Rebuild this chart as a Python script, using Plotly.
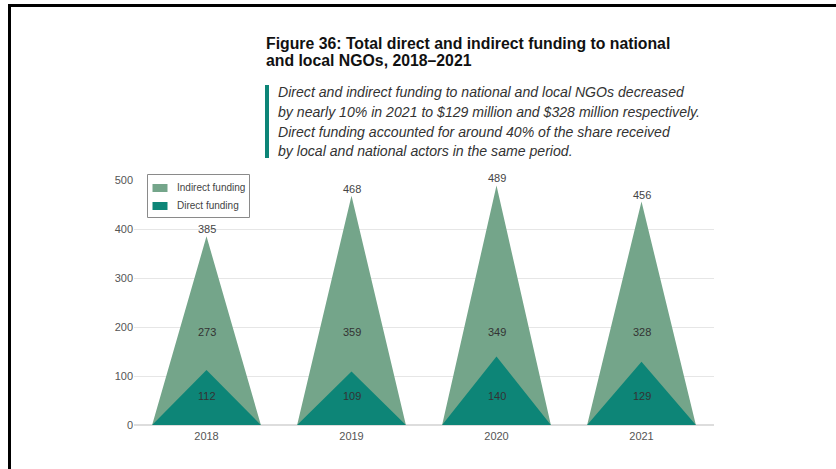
import plotly.graph_objects as go

years = ["2018", "2019", "2020", "2021"]
indirect = [273, 359, 349, 328]
direct = [112, 109, 140, 129]
totals = [385, 468, 489, 456]
y_ticks = [0, 100, 200, 300, 400, 500]
legend_names = ["Indirect funding", "Direct funding"]

INDIRECT_COL = "#74a58a"
DIRECT_COL = "#0d8577"
HALF = 0.375

# plot area pixel geometry
L, R, T, B = 134, 122, 180, 44
W, H = 836, 469
PW, PH = W - L - R, H - T - B


def px(xp):
    return (xp - L) / PW


def py(yp):
    return (H - B - yp) / PH


fig = go.Figure()

xs, ys = [], []
for i, t in enumerate(totals):
    xs += [i - HALF, i, i + HALF, i - HALF, None]
    ys += [0, t, 0, 0, None]
fig.add_trace(go.Scatter(x=xs, y=ys, fill="toself", fillcolor=INDIRECT_COL,
                         mode="none", name=legend_names[0], hoverinfo="skip",
                         showlegend=False))
xs, ys = [], []
for i, d in enumerate(direct):
    xs += [i - HALF, i, i + HALF, i - HALF, None]
    ys += [0, d, 0, 0, None]
fig.add_trace(go.Scatter(x=xs, y=ys, fill="toself", fillcolor=DIRECT_COL,
                         mode="none", name=legend_names[1], hoverinfo="skip",
                         showlegend=False))

annots = []
for i in range(len(years)):
    annots.append(dict(x=i, y=totals[i], text=str(totals[i]), showarrow=False,
                       yanchor="bottom", yshift=-1, font=dict(size=11, color="#444")))
    annots.append(dict(x=i, y=190, text=str(indirect[i]), showarrow=False,
                       font=dict(size=11, color="#333")))
    annots.append(dict(x=i, y=59, text=str(direct[i]), showarrow=False,
                       font=dict(size=11, color="#333")))

title_lines = ["Figure 36: Total direct and indirect funding to national",
               "and local NGOs, 2018\u20132021"]
for line, yc in zip(title_lines, [43, 61]):
    annots.append(dict(xref="paper", yref="paper", x=px(264), y=py(yc),
                       xanchor="left", yanchor="middle", showarrow=False,
                       text="<b>" + line + "</b>",
                       font=dict(family="Liberation Sans, Arial", size=15.8, color="#111")))

sub_lines = ["Direct and indirect funding to national and local NGOs decreased",
             "by nearly 10% in 2021 to $129 million and $328 million respectively.",
             "Direct funding accounted for around 40% of the share received",
             "by local and national actors in the same period."]
for line, yc in zip(sub_lines, [92, 112, 132, 151]):
    annots.append(dict(xref="paper", yref="paper", x=px(276), y=py(yc),
                       xanchor="left", yanchor="middle", showarrow=False,
                       text="<i>" + line + "</i>",
                       font=dict(family="Liberation Sans, Arial", size=14.1, color="#333")))

# manual legend
shapes = [
    dict(type="rect", xref="paper", yref="paper", x0=px(147.5), x1=px(249.5),
         y0=py(217.5), y1=py(174.5), fillcolor="white", line=dict(color="#8a8a8a", width=1)),
]
for name, col, yc in zip(legend_names, [INDIRECT_COL, DIRECT_COL], [188, 206]):
    shapes.append(dict(type="rect", xref="paper", yref="paper", x0=px(152.5), x1=px(167.5),
                       y0=py(yc + 4), y1=py(yc - 4), fillcolor=col, line=dict(width=0)))
    annots.append(dict(xref="paper", yref="paper", x=px(175), y=py(yc - 0.5),
                       xanchor="left", yanchor="middle", showarrow=False, text=name,
                       font=dict(size=10, color="#444")))

shapes += [
    dict(type="rect", xref="paper", yref="paper", x0=px(265), x1=px(269),
         y0=py(158), y1=py(85), fillcolor=DIRECT_COL, line=dict(width=0)),
    dict(type="line", xref="paper", yref="paper", x0=px(9.5), x1=px(9.5),
         y0=py(4), y1=py(470), line=dict(color="black", width=3)),
    dict(type="line", xref="paper", yref="paper", x0=px(8), x1=px(837),
         y0=py(5.5), y1=py(5.5), line=dict(color="black", width=3)),
]

fig.update_layout(
    width=W, height=H,
    margin=dict(l=L, r=R, t=T, b=B),
    paper_bgcolor="white", plot_bgcolor="white",
    font=dict(family="Liberation Sans, Arial", color="#555", size=11),
    showlegend=False,
    hovermode=False,
    xaxis=dict(range=[-0.5, 3.5], tickmode="array", tickvals=list(range(len(years))),
               ticktext=years, showgrid=False, zeroline=False, ticks="",
               ticklabelstandoff=3,
               tickfont=dict(size=11, color="#555")),
    yaxis=dict(range=[0, 500], tickvals=y_ticks, showgrid=True, gridcolor="#e6e6e6",
               zeroline=True, zerolinecolor="#dddddd", ticks="", ticklen=0,
               tickfont=dict(size=11, color="#555")),
    annotations=annots,
    shapes=shapes,
)

fig.write_html("out.html", config={"displayModeBar": False},
               post_script="document.body.style.margin='0';document.body.style.overflow='hidden';")
